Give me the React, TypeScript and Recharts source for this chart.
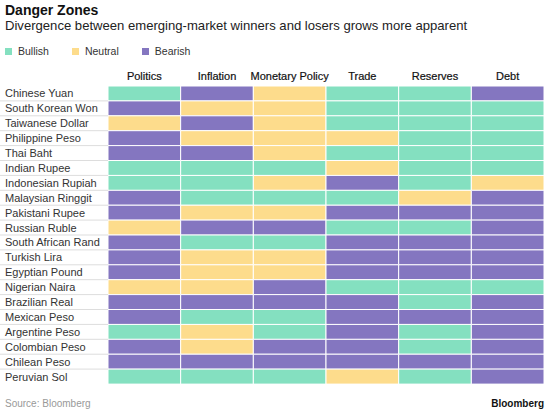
import React from 'react';
import { BarChart, Bar, XAxis, YAxis, Cell } from 'recharts';

// B = Bullish, N = Neutral, R = Bearish
const currencies = [
  'Chinese Yuan',
  'South Korean Won',
  'Taiwanese Dollar',
  'Philippine Peso',
  'Thai Baht',
  'Indian Rupee',
  'Indonesian Rupiah',
  'Malaysian Ringgit',
  'Pakistani Rupee',
  'Russian Ruble',
  'South African Rand',
  'Turkish Lira',
  'Egyptian Pound',
  'Nigerian Naira',
  'Brazilian Real',
  'Mexican Peso',
  'Argentine Peso',
  'Colombian Peso',
  'Chilean Peso',
  'Peruvian Sol',
];

const factors = ['Politics', 'Inflation', 'Monetary Policy', 'Trade', 'Reserves', 'Debt'];

const politics = ['B', 'R', 'N', 'R', 'R', 'B', 'B', 'R', 'R', 'N', 'R', 'R', 'R', 'N', 'R', 'R', 'B', 'R', 'R', 'B'];
const inflation = ['R', 'N', 'R', 'N', 'R', 'B', 'B', 'B', 'N', 'R', 'B', 'N', 'N', 'N', 'R', 'B', 'N', 'N', 'R', 'B'];
const monetaryPolicy = ['N', 'N', 'N', 'N', 'N', 'B', 'N', 'B', 'N', 'R', 'B', 'N', 'N', 'R', 'R', 'B', 'B', 'R', 'R', 'B'];
const trade = ['B', 'B', 'B', 'N', 'B', 'N', 'R', 'B', 'R', 'B', 'R', 'R', 'R', 'B', 'R', 'R', 'R', 'R', 'R', 'N'];
const reserves = ['B', 'B', 'B', 'B', 'B', 'B', 'B', 'N', 'R', 'B', 'R', 'R', 'R', 'B', 'B', 'R', 'B', 'B', 'R', 'B'];
const debt = ['R', 'B', 'B', 'B', 'B', 'B', 'N', 'R', 'R', 'R', 'R', 'R', 'R', 'B', 'R', 'R', 'R', 'R', 'R', 'R'];

const columns = [politics, inflation, monetaryPolicy, trade, reserves, debt];

const legendItems = [
  { code: 'B', label: 'Bullish' },
  { code: 'N', label: 'Neutral' },
  { code: 'R', label: 'Bearish' },
];

const COLORS: Record<string, string> = {
  B: '#84e0c0',
  N: '#fddc8c',
  R: '#8476c0',
};

const FONT = '"Liberation Sans", Arial, Helvetica, sans-serif';

const data = currencies.map((name) => {
  const row: Record<string, string | number> = { name };
  factors.forEach((_, j) => {
    row[`f${j}`] = 1;
  });
  return row;
});

const ROW_H = 298 / currencies.length;

function RowTick(props: any) {
  const { y, payload, index } = props;
  return (
    <g>
      <text x={5} y={y + 4} fontSize={11} fill="#333" fontFamily={FONT}>
        {payload.value}
      </text>
      {index < currencies.length - 1 && (
        <line x1={0} x2={108} y1={y + ROW_H / 2} y2={y + ROW_H / 2} stroke="#ddd" strokeWidth={1} />
      )}
    </g>
  );
}

function HeaderTick(props: any) {
  const { x, payload } = props;
  return (
    <text x={x} y={20} textAnchor="middle" fontSize={11} fill="#111" stroke="#111" strokeWidth={0.2} fontFamily={FONT}>
      {factors[Math.floor(payload.value)]}
    </text>
  );
}

export default function App() {
  return (
    <div
      style={{
        position: 'absolute',
        left: 0,
        top: 0,
        width: 550,
        height: 413,
        background: '#fff',
        fontFamily: FONT,
        color: '#222',
      }}
    >
      <div style={{ position: 'absolute', left: 5, top: 2, fontSize: 14, fontWeight: 'bold', color: '#111' }}>
        Danger Zones
      </div>
      <div style={{ position: 'absolute', left: 5, top: 18, fontSize: 13.1, color: '#222' }}>
        Divergence between emerging-market winners and losers grows more apparent
      </div>
      <div style={{ position: 'absolute', left: 5, top: 45, display: 'flex', fontSize: 10.5, color: '#333' }}>
        {legendItems.map((item) => (
          <div key={item.code} style={{ display: 'flex', alignItems: 'center', marginRight: 23 }}>
            <span style={{ width: 7, height: 7, background: COLORS[item.code], marginRight: 6 }} />
            {item.label}
          </div>
        ))}
      </div>

      <div style={{ position: 'absolute', left: 0, top: 60 }}>
        <BarChart
          width={550}
          height={324}
          data={data}
          layout="vertical"
          barCategoryGap={0}
          margin={{ top: 0, right: 6, bottom: 0, left: 0 }}
        >
          <XAxis
            type="number"
            orientation="top"
            domain={[0, 6]}
            ticks={[0.5, 1.5, 2.5, 3.5, 4.5, 5.5]}
            height={26}
            axisLine={false}
            tickLine={false}
            tick={<HeaderTick />}
            interval={0}
          />
          <YAxis
            type="category"
            dataKey="name"
            width={108}
            axisLine={false}
            tickLine={false}
            tick={<RowTick />}
            interval={0}
          />
          {factors.map((f, j) => (
            <Bar key={f} dataKey={`f${j}`} stackId="grid" stroke="#fff" strokeWidth={1} isAnimationActive={false}>
              {columns[j].map((code, i) => (
                <Cell key={`c-${j}-${i}`} fill={COLORS[code]} />
              ))}
            </Bar>
          ))}
        </BarChart>
      </div>

      <div style={{ position: 'absolute', left: 5, top: 398, fontSize: 10, color: '#999' }}>Source: Bloomberg</div>
      <div style={{ position: 'absolute', right: 6, top: 398, fontSize: 10, fontWeight: 'bold', color: '#111' }}>
        Bloomberg
      </div>
    </div>
  );
}
